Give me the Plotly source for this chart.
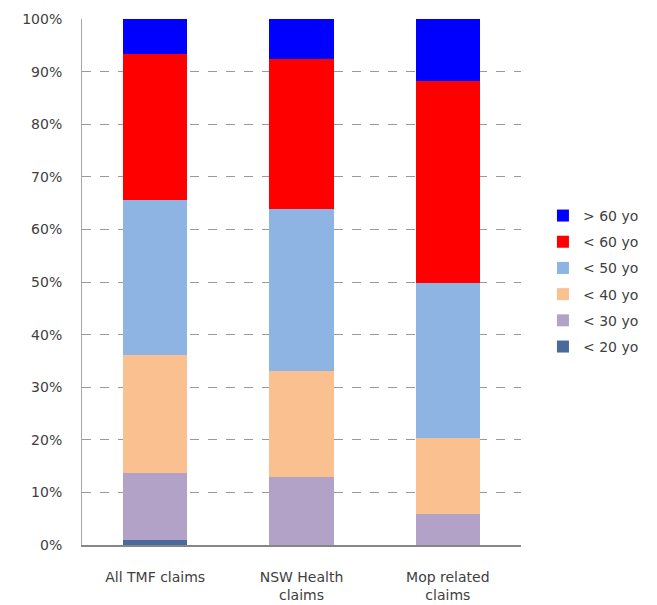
import plotly.graph_objects as go

categories = ["All TMF claims", "NSW Health<br>claims", "Mop related<br>claims"]
series_names = ["< 20 yo", "< 30 yo", "< 40 yo", "< 50 yo", "< 60 yo", "> 60 yo"]
lt20 = [1.0, 0.0, 0.0]
lt30 = [12.7, 12.9, 5.9]
lt40 = [22.5, 20.1, 14.4]
lt50 = [29.3, 30.8, 29.6]
lt60 = [27.9, 28.6, 38.3]
gt60 = [6.6, 7.6, 11.8]
colors = ["#4A6A9A", "#B3A2C7", "#FAC090", "#8EB4E3", "#FF0000", "#0000FF"]

fig = go.Figure()
all_vals = [lt20, lt30, lt40, lt50, lt60, gt60]
for i, (name, vals, col) in enumerate(zip(series_names, all_vals, colors)):
    fig.add_trace(go.Bar(x=categories, y=vals, name=name, marker_color=col,
                         marker_line_width=0, width=0.44, legendgroup=name,
                         legendrank=len(series_names) - i))

fig.update_layout(
    width=657, height=605,
    barmode="stack",
    plot_bgcolor="white", paper_bgcolor="white",
    margin=dict(l=74, r=144, t=11, b=68),
    font=dict(family="DejaVu Sans", size=14, color="#404040"),
    legend=dict(x=1.05, y=0.656, xanchor="left", yanchor="top",
                traceorder="grouped", tracegroupgap=5,
                font=dict(size=14, color="#404040")),
    showlegend=True,
)
fig.update_yaxes(range=[0, 100], dtick=10, ticksuffix="%", showgrid=True,
                 gridcolor="#9A9A9A", griddash="dash", gridwidth=1,
                 zeroline=False, showline=True, linecolor="#A8A8A8", linewidth=1,
                 ticks="", ticklabelstandoff=16, automargin=False,
                 tickfont=dict(size=14, color="#404040"))
fig.update_xaxes(showline=True, linecolor="#868686", linewidth=1.5, ticks="",
                 range=[-0.5, 2.5], tickfont=dict(size=14, color="#404040"),
                 ticklabelstandoff=18, automargin=False)

fig.write_html("out.html")
